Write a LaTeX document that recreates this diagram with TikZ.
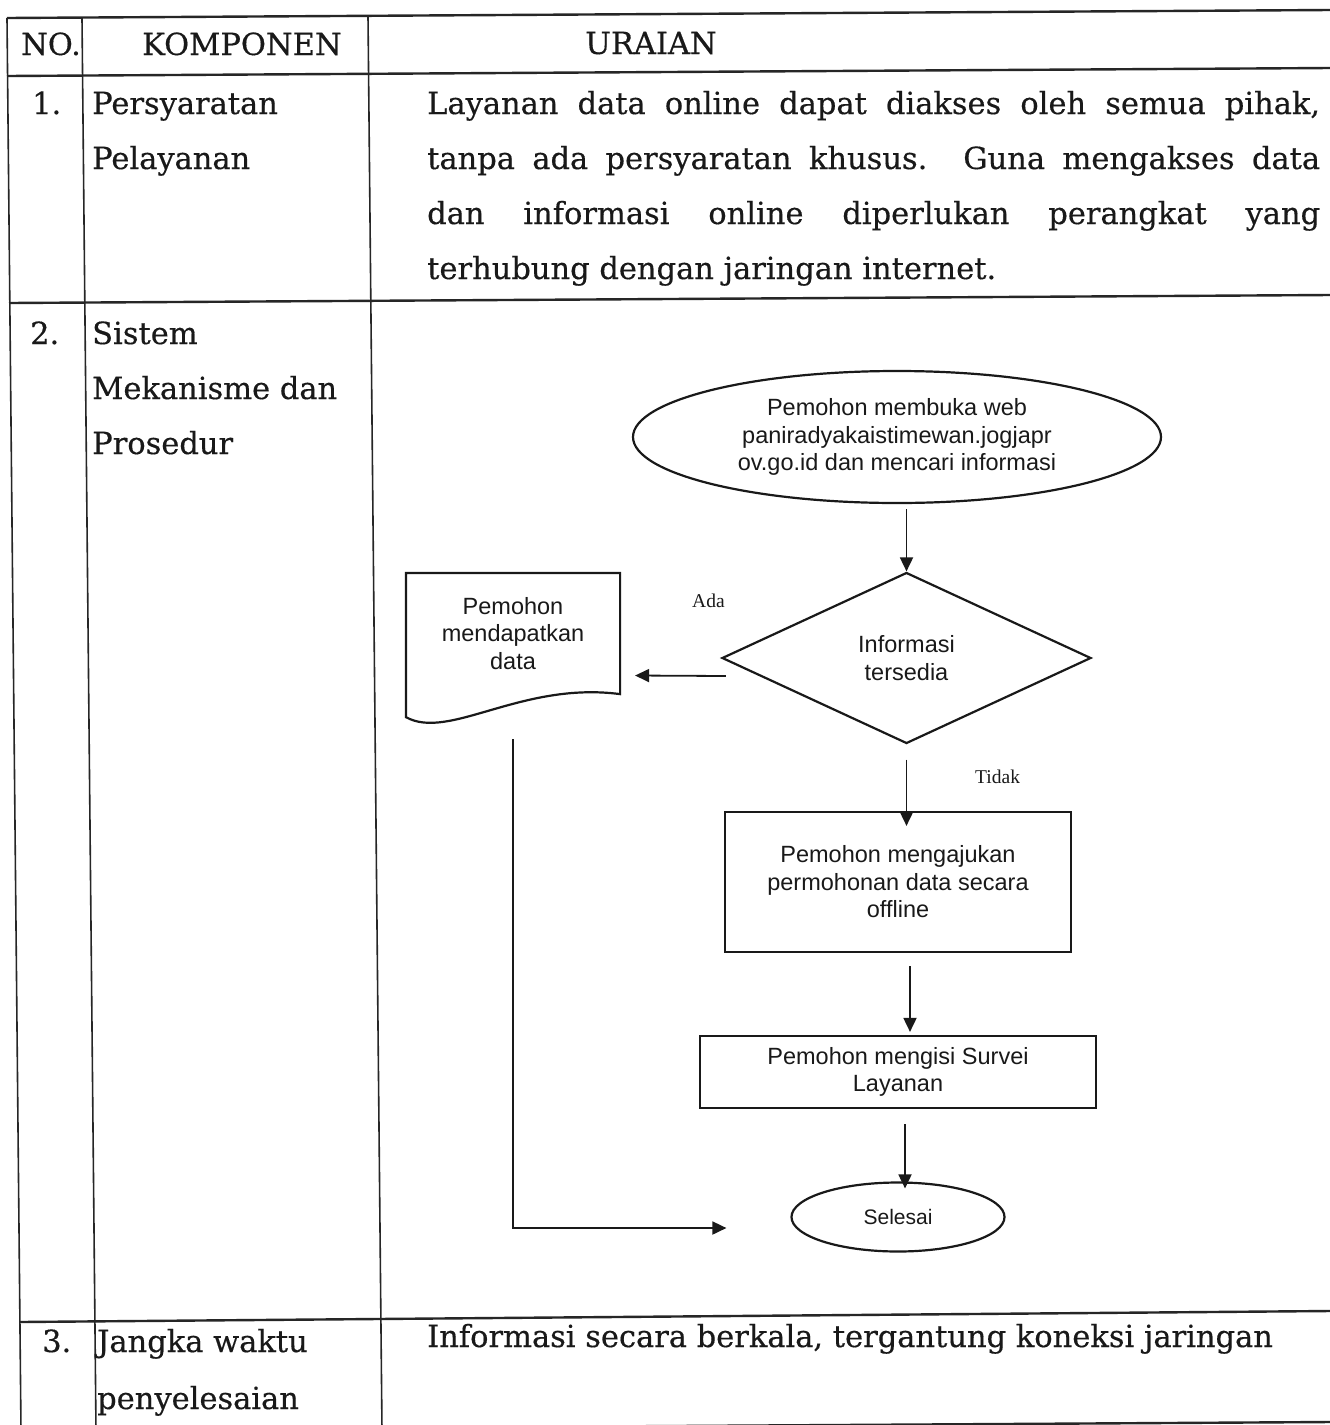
\documentclass[tikz,border=0pt]{standalone}
\usepackage{fontspec}
\setmainfont{DejaVu Serif}[FakeBold=0.4]
\newfontfamily\flowfont{Liberation Sans}
\newfontfamily\lblfont{Liberation Serif}
\usetikzlibrary{shapes.geometric,arrows.meta}

\begin{document}
\begin{tikzpicture}[x=1pt,y=-1pt,
  hrule/.style={line width=2.4pt, draw=black!85},
  vrule/.style={line width=1.6pt, draw=black!85},
  cell/.style={inner sep=0pt, anchor=base west, text=black!90,
    font=\fontsize{30.5}{55}\selectfont},
  flow/.style={draw=black!90, line width=2.2pt, align=center, inner sep=0pt,
    text=black!90, font=\flowfont\fontsize{23.5}{27.5}\selectfont},
  arr/.style={line width=1.8pt, draw=black!90, -{Triangle[length=14pt,width=13pt]}},
  tag/.style={inner sep=0pt, anchor=base west, text=black!90,
    font=\lblfont\fontsize{19.5}{22}\selectfont}
]
\useasboundingbox (0,0) rectangle (1330,1425);
\fill[white] (0,0) rectangle (1330,1425);

% table rules
\draw[hrule] (7,18) -- (1330,10);
\draw[hrule] (7,76) -- (1330,68);
\draw[hrule] (9,303) -- (1330,295);
\draw[hrule] (20,1322) -- (1330,1311);
\draw[hrule] (21,1430) -- (1330,1422);
\draw[vrule] (7,18) -- (21,1430);
\draw[vrule] (82,18) -- (96,1430);
\draw[vrule] (368,16) -- (382,1430);

% header
\node[cell] (hno) at (21,55) {NO.};
\node[cell] (hkomp) at (142,55) {KOMPONEN};
\node[cell] (hur) at (585,54) {URAIAN};

% row 1
\node[cell] (n1) at (32,114) {1.};
\node[cell] (k1a) at (92,114) {Persyaratan};
\node[cell] (k1b) at (92,169) {Pelayanan};
\node[cell] (u1a) at (427,114) {\makebox[893pt][s]{Layanan data online dapat diakses oleh semua pihak,}};
\node[cell] (u1b) at (427,169) {\makebox[893pt][s]{tanpa ada persyaratan khusus. Guna mengakses data}};
\node[cell] (u1c) at (427,224) {\makebox[893pt][s]{dan informasi online diperlukan perangkat yang}};
\node[cell] (u1d) at (427,279) {terhubung dengan jaringan internet.};

% row 2
\node[cell] (n2) at (30,344) {2.};
\node[cell] (k2a) at (92,344) {Sistem};
\node[cell] (k2b) at (92,399) {Mekanisme dan};
\node[cell] (k2c) at (92,454) {Prosedur};

% row 3
\node[cell] (n3) at (42,1352) {3.};
\node[cell] (k3a) at (97,1352) {Jangka waktu};
\node[cell] (k3b) at (97,1409) {penyelesaian};
\node[cell] (u3) at (427,1347) {Informasi secara berkala, tergantung koneksi jaringan};

% flowchart
\node[flow, ellipse, minimum width=528pt, minimum height=132pt] (start) at (897,437)
  {Pemohon membuka web\\paniradyakaistimewan.jogjapr\\ov.go.id dan mencari informasi};
\node[flow, diamond, aspect=2.158, minimum width=369pt, minimum height=171pt] (dia) at (906.5,658)
  {Informasi\\tersedia};
\node[flow, draw=none, minimum width=212pt, minimum height=119pt] (doc) at (513,633.5)
  {Pemohon\\mendapatkan\\data};
\draw[line width=2.2pt, draw=black!90]
  ([yshift=-23pt]doc.south west) -- (doc.north west) -- (doc.north east) -- (doc.south east)
  .. controls ([shift={(-99,-13)}]doc.south east) and ([shift={(43,47)}]doc.south west)
  .. ([yshift=-23pt]doc.south west) -- cycle;
\node[flow, rectangle, minimum width=346pt, minimum height=140pt] (r1) at (898,882)
  {Pemohon mengajukan\\permohonan data secara\\offline};
\node[flow, rectangle, minimum width=396pt, minimum height=72pt] (r2) at (898,1072)
  {Pemohon mengisi Survei\\Layanan};
\node[flow, ellipse, minimum width=213pt, minimum height=69pt,
  font=\flowfont\fontsize{21}{24}\selectfont] (sel) at (898,1217) {Selesai};

\node[tag] (ada) at (692,607) {Ada};
\node[tag] (tidak) at (975,783) {Tidak};

% connectors
\draw[arr] ([yshift=-5pt]dia.north |- start.south) -- (dia.north);
\draw[arr] ([shift={(5,18)}]dia.west) -- ([shift={(15,42)}]doc.east);
\draw[arr] ([yshift=-15pt]dia.south) -- ([yshift=-15pt]dia.south |- r1.north);
\draw[arr] ([shift={(12,13)}]r1.south) -- ([shift={(12,-3)}]r2.north);
\draw[arr] ([shift={(7,15)}]r2.south) -- ([shift={(7,7)}]sel.north);
\draw[arr] ([yshift=-45pt]doc.south) |- ([shift={(-64,11)}]sel.west);
\end{tikzpicture}
\end{document}
